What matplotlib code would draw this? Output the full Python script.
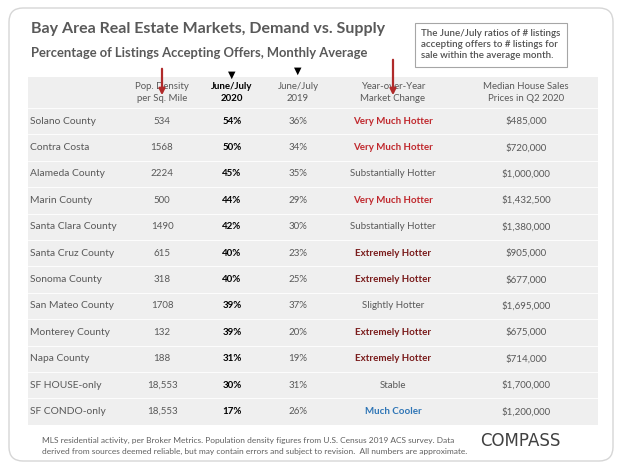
import matplotlib
matplotlib.use("Agg")
import matplotlib.pyplot as plt
from matplotlib.patches import FancyBboxPatch, Rectangle

# table contents
counties = ["Solano County", "Contra Costa", "Alameda County", "Marin County",
            "Santa Clara County", "Santa Cruz County", "Sonoma County",
            "San Mateo County", "Monterey County", "Napa County",
            "SF HOUSE-only", "SF CONDO-only"]
density = ["534", "1568", "2224", "500", "1490", "615", "318", "1708",
           "132", "188", "18,553", "18,553"]
pct_2020 = [54, 50, 45, 44, 42, 40, 40, 39, 39, 31, 30, 17]
pct_2019 = [36, 34, 35, 29, 30, 23, 25, 37, 20, 19, 31, 26]
yoy = ["Very Much Hotter", "Very Much Hotter", "Substantially Hotter",
       "Very Much Hotter", "Substantially Hotter", "Extremely Hotter",
       "Extremely Hotter", "Slightly Hotter", "Extremely Hotter",
       "Extremely Hotter", "Stable", "Much Cooler"]
median_price = [485000, 720000, 1000000, 1432500, 1380000, 905000, 677000,
                1695000, 675000, 714000, 1700000, 1200000]
headers = ["", "Pop. Density\nper Sq. Mile", "June/July\n2020",
           "June/July\n2019", "Year-over-Year\nMarket Change",
           "Median House Sales\nPrices in Q2 2020"]

yoy_colors = {"Very Much Hotter": "#c0282d", "Extremely Hotter": "#7a1c1c",
              "Much Cooler": "#2e75b6"}
grey = "#595959"

plt.rcParams["font.family"] = ["Lato", "DejaVu Sans"]

fig = plt.figure(figsize=(6.22, 4.67), dpi=100)
ax = fig.add_axes([0, 0, 1, 1])
ax.set_xlim(0, 622)
ax.set_ylim(467, 0)
ax.axis("off")

# outer rounded frame
ax.add_patch(FancyBboxPatch((9, 8), 604, 453,
                            boxstyle="round,pad=0,rounding_size=14",
                            fc="white", ec="#d6d6d6", lw=1.0))

ax.text(31, 29, "Bay Area Real Estate Markets, Demand vs. Supply",
        fontsize=11.5, fontweight="bold", color=grey, va="center")
ax.text(31, 53, "Percentage of Listings Accepting Offers, Monthly Average",
        fontsize=9.4, fontweight="bold", color=grey, va="center")

# note box
ax.add_patch(Rectangle((415, 23), 152, 44, fc="white", ec="#a6a6a6", lw=0.8))
ax.text(421, 44.5, "The June/July ratios of # listings\n"
        "accepting offers to # listings for\n"
        "sale within the average month.",
        fontsize=7.0, fontweight="semibold", color="#505050", ha="left",
        va="center", linespacing=1.25)

# table geometry
col_x = [30, 162, 232, 298, 393, 526]
col_edges = [28, 125, 200, 265, 333, 455, 598]
top, head_h, row_h = 77, 31, 26.4
n = len(counties)
bottom = top + head_h + n * row_h

for i in range(len(col_edges) - 1):
    ax.add_patch(Rectangle((col_edges[i] + 0.4, top),
                           col_edges[i + 1] - col_edges[i] - 0.8,
                           bottom - top, fc="#efefef", ec="none"))
for r in range(n):
    y = top + head_h + r * row_h
    ax.plot([28, 598], [y, y], color="white", lw=0.6)

for j, h in enumerate(headers):
    if not h:
        continue
    ax.text(col_x[j], top + head_h / 2, h, fontsize=6.9,
            color="black" if j == 2 else grey,
            fontweight="bold" if j == 2 else "normal",
            ha="center", va="center", linespacing=1.5)

for r in range(n):
    y = top + head_h + (r + 0.5) * row_h
    ax.text(col_x[0], y, counties[r], fontsize=7.4, color=grey,
            va="center", ha="left")
    ax.text(col_x[1], y, density[r], fontsize=7, color=grey,
            va="center", ha="center")
    ax.text(col_x[2], y, f"{pct_2020[r]}%", fontsize=7, color="black",
            fontweight="bold", va="center", ha="center")
    ax.text(col_x[3], y, f"{pct_2019[r]}%", fontsize=7, color=grey,
            va="center", ha="center")
    c = yoy_colors.get(yoy[r], grey)
    ax.text(col_x[4], y, yoy[r], fontsize=7, color=c,
            fontweight="bold" if yoy[r] in yoy_colors else "normal",
            va="center", ha="center")
    ax.text(col_x[5], y, f"${median_price[r]:,}", fontsize=7, color=grey,
            va="center", ha="center")

# pointers
for x, y0 in [(col_x[1], 66), (col_x[4], 57)]:
    ax.annotate("", xy=(x, 98), xytext=(x, y0),
                arrowprops=dict(arrowstyle="-|>", color="#b02a2a", lw=1.6,
                                mutation_scale=9))
for x, y in [(col_x[2], 75), (col_x[3], 71)]:
    ax.text(x, y, "\u25bc", fontsize=7, ha="center", va="center",
            color="black", family="DejaVu Sans")

ax.text(42, 440, "MLS residential activity, per Broker Metrics. Population "
        "density figures from U.S. Census 2019 ACS survey. Data",
        fontsize=6.0, color="#606060", va="center")
ax.text(42, 451, "derived from sources deemed reliable, but may contain "
        "errors and subject to revision.  All numbers are approximate.",
        fontsize=6.0, color="#606060", va="center")
ax.text(480, 441, "COMPASS", fontsize=12, color="#404040", va="center",
        family="DejaVu Sans")

fig.savefig("out.png", dpi=100)
